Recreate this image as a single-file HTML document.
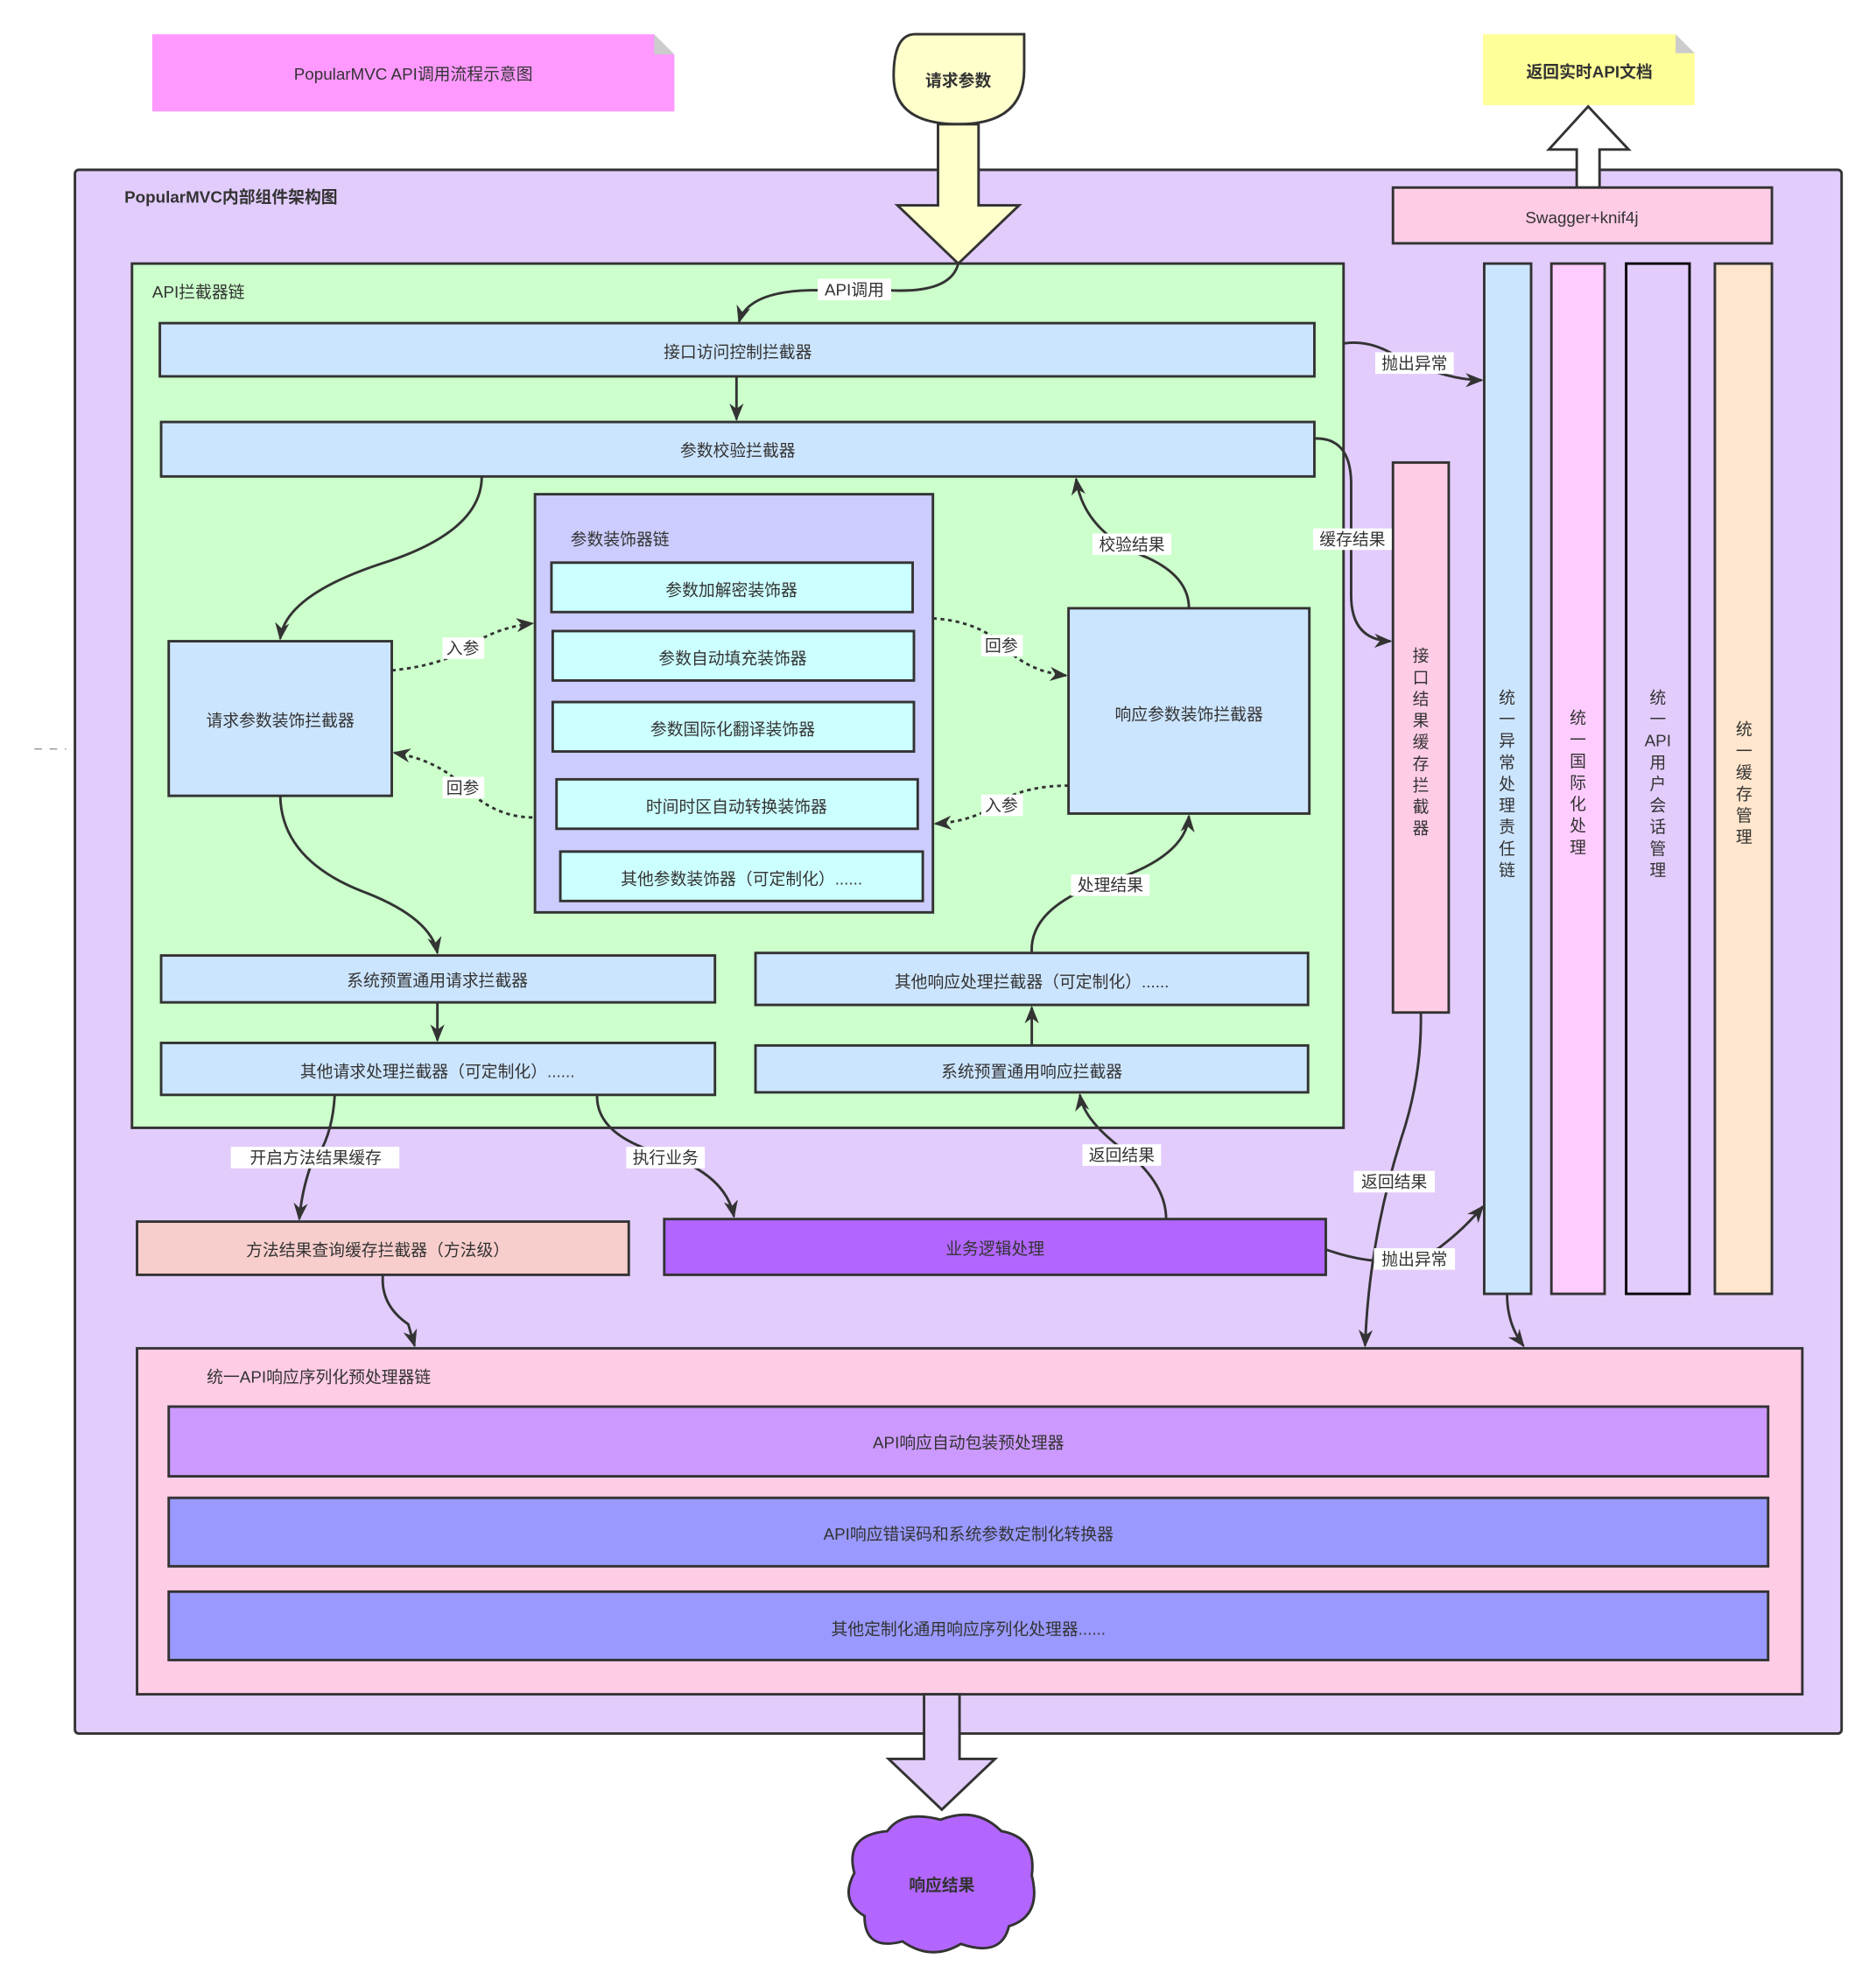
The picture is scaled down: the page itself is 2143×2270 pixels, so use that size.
<!DOCTYPE html>
<html><head><meta charset="utf-8"><style>
html,body{margin:0;padding:0;background:#fff}
svg{display:block}
text{font-family:"Liberation Sans","Noto Sans CJK SC",sans-serif;fill:#333;font-size:13px}
</style></head><body>
<svg width="2143" height="2270" viewBox="0 0 1480 1568" xmlns="http://www.w3.org/2000/svg">
<defs>
<marker id="a" viewBox="0 0 10 10" refX="9" refY="5" markerWidth="7" markerHeight="7" orient="auto-start-reverse"><path d="M0,1 L10,5 L0,9 L3,5z" fill="#333"/></marker>
</defs>
<line x1="27" y1="591" x2="52" y2="591" stroke="#999" stroke-dasharray="6,6"/>
<path d="M120,27 H516 L532,43 V88 H120Z" fill="#ff99ff"/>
<path d="M516,27 L532,43 H516Z" fill="#ccc"/>
<text x="326" y="63" text-anchor="middle">PopularMVC API调用流程示意图</text>
<path d="M1170,27 H1322 L1337,42 V83 H1170Z" fill="#ffff99"/>
<path d="M1322,27 L1337,42 H1322Z" fill="#ccc"/>
<text x="1254" y="61" text-anchor="middle" font-weight="bold">返回实时API文档</text>
<rect x="59" y="134" width="1394" height="1234" rx="3" fill="#e2ccfc" stroke="#333" stroke-width="2"/>
<text x="98" y="160" font-weight="bold">PopularMVC内部组件架构图</text>
<path d="M722,27 H808 V55 Q808,98 756,98 Q705,98 705,60 Q705,27 722,27Z" fill="#ffffcc" stroke="#333" stroke-width="2"/>
<text x="756" y="68" text-anchor="middle" font-weight="bold">请求参数</text>
<path d="M740,98 H772 V162 H804 L756,208 L708,162 H740Z" fill="#ffffcc" stroke="#333" stroke-width="2"/>
<path d="M1244,148 V118 H1222 L1253,84 L1285,118 H1262 V148Z" fill="#fff" stroke="#333" stroke-width="2"/>
<rect x="1099" y="148" width="299" height="44" fill="#ffcce6" stroke="#333" stroke-width="2"/>
<text x="1248" y="176" text-anchor="middle">Swagger+knif4j</text>
<rect x="104" y="208" width="956" height="682" fill="#ccffcc" stroke="#333" stroke-width="2"/>
<text x="120" y="235">API拦截器链</text>
<rect x="1171" y="208" width="37" height="813" fill="#cce5ff" stroke="#333" stroke-width="2"/>
<rect x="1224" y="208" width="42" height="813" fill="#ffccff" stroke="#333" stroke-width="2"/>
<rect x="1283" y="208" width="50" height="813" fill="#e2ccfc" stroke="#000" stroke-width="2"/>
<rect x="1353" y="208" width="45" height="813" fill="#ffe6cc" stroke="#333" stroke-width="2"/>
<rect x="1099" y="365" width="44" height="434" fill="#ffcce6" stroke="#333" stroke-width="2"/>
<g text-anchor="middle">
<text x="1121"><tspan x="1121" y="522">接</tspan><tspan x="1121" y="539">口</tspan><tspan x="1121" y="556">结</tspan><tspan x="1121" y="573">果</tspan><tspan x="1121" y="590">缓</tspan><tspan x="1121" y="607">存</tspan><tspan x="1121" y="624">拦</tspan><tspan x="1121" y="641">截</tspan><tspan x="1121" y="658">器</tspan></text>
<text><tspan x="1189" y="555">统</tspan><tspan x="1189" y="572">一</tspan><tspan x="1189" y="589">异</tspan><tspan x="1189" y="606">常</tspan><tspan x="1189" y="623">处</tspan><tspan x="1189" y="640">理</tspan><tspan x="1189" y="657">责</tspan><tspan x="1189" y="674">任</tspan><tspan x="1189" y="691">链</tspan></text>
<text><tspan x="1245" y="571">统</tspan><tspan x="1245" y="588">一</tspan><tspan x="1245" y="605">国</tspan><tspan x="1245" y="622">际</tspan><tspan x="1245" y="639">化</tspan><tspan x="1245" y="656">处</tspan><tspan x="1245" y="673">理</tspan></text>
<text><tspan x="1308" y="555">统</tspan><tspan x="1308" y="572">一</tspan><tspan x="1308" y="589">API</tspan><tspan x="1308" y="606">用</tspan><tspan x="1308" y="623">户</tspan><tspan x="1308" y="640">会</tspan><tspan x="1308" y="657">话</tspan><tspan x="1308" y="674">管</tspan><tspan x="1308" y="691">理</tspan></text>
<text><tspan x="1376" y="580">统</tspan><tspan x="1376" y="597">一</tspan><tspan x="1376" y="614">缓</tspan><tspan x="1376" y="631">存</tspan><tspan x="1376" y="648">管</tspan><tspan x="1376" y="665">理</tspan></text>
</g>
<g stroke="#333" stroke-width="2" fill="#cce5ff">
<rect x="126" y="255" width="911" height="42"/>
<rect x="127" y="333" width="910" height="43"/>
<rect x="133" y="506" width="176" height="122"/>
<rect x="843" y="480" width="190" height="162"/>
<rect x="127" y="754" width="437" height="37"/>
<rect x="127" y="823" width="437" height="41"/>
<rect x="596" y="752" width="436" height="41"/>
<rect x="596" y="825" width="436" height="37"/>
<rect x="422" y="390" width="314" height="330" fill="#ccccff"/>
<g fill="#ccffff">
<rect x="435" y="444" width="285" height="39"/>
<rect x="436" y="498" width="285" height="39"/>
<rect x="436" y="554" width="285" height="39"/>
<rect x="439" y="615" width="285" height="39"/>
<rect x="442" y="672" width="286" height="39"/>
</g>
<rect x="108" y="964" width="388" height="42" fill="#f8cecc"/>
<rect x="524" y="962" width="522" height="44" fill="#b266ff"/>
<rect x="108" y="1064" width="1314" height="273" fill="#ffcce6"/>
<rect x="133" y="1110" width="1262" height="55" fill="#cc99ff"/>
<rect x="133" y="1182" width="1262" height="54" fill="#9999ff"/>
<rect x="133" y="1256" width="1262" height="54" fill="#9999ff"/>
</g>
<g text-anchor="middle">
<text x="582" y="282">接口访问控制拦截器</text>
<text x="582" y="360">参数校验拦截器</text>
<text x="221" y="573">请求参数装饰拦截器</text>
<text x="938" y="568">响应参数装饰拦截器</text>
<text x="577" y="470">参数加解密装饰器</text>
<text x="578" y="524">参数自动填充装饰器</text>
<text x="578" y="580">参数国际化翻译装饰器</text>
<text x="581" y="641">时间时区自动转换装饰器</text>
<text x="585" y="698">其他参数装饰器（可定制化）......</text>
<text x="345" y="778">系统预置通用请求拦截器</text>
<text x="345" y="850">其他请求处理拦截器（可定制化）......</text>
<text x="814" y="779">其他响应处理拦截器（可定制化）......</text>
<text x="814" y="850">系统预置通用响应拦截器</text>
<text x="298" y="991">方法结果查询缓存拦截器（方法级）</text>
<text x="785" y="990">业务逻辑处理</text>
<text x="764" y="1143">API响应自动包装预处理器</text>
<text x="764" y="1215">API响应错误码和系统参数定制化转换器</text>
<text x="764" y="1290">其他定制化通用响应序列化处理器......</text>
</g>
<text x="450" y="430">参数装饰器链</text>
<text x="163" y="1091">统一API响应序列化预处理器链</text>
<path d="M729,1337 H757 V1388 H785 L743,1428 L701,1388 H729Z" fill="#e2ccfc" stroke="#333" stroke-width="2"/>
<path d="M700,1445 Q712,1428 742,1436 Q770,1425 790,1445 Q818,1450 814,1480 Q822,1512 796,1520 Q790,1545 758,1534 Q735,1548 712,1532 Q682,1540 682,1512 Q662,1500 674,1478 Q666,1448 700,1445Z" fill="#b266ff" stroke="#333" stroke-width="2"/>
<text x="743" y="1492" text-anchor="middle" font-weight="bold">响应结果</text>
<g fill="none" stroke="#333" stroke-width="2" marker-end="url(#a)">
<path d="M756,208 Q750,232 700,229 L640,229 Q590,230 583,254"/>
<path d="M581,297 V331"/>
<path d="M380,376 Q380,420 300,445 Q225,470 221,504"/>
<path d="M221,628 Q222,680 290,705 Q340,725 345,752"/>
<path d="M345,791 V821"/>
<path d="M264,864 Q262,900 245,920 Q238,940 236,962"/>
<path d="M471,864 Q470,895 520,910 Q572,925 579,960"/>
<path d="M920,962 Q920,935 890,910 Q855,885 852,864"/>
<path d="M814,825 V795"/>
<path d="M814,752 Q812,720 860,700 Q935,680 938,644"/>
<path d="M938,480 Q938,455 905,440 Q855,420 849,378"/>
<path d="M1037,346 Q1065,345 1066,380 V470 Q1066,505 1097,506"/>
<path d="M1060,271 Q1080,268 1100,280 Q1140,300 1169,300"/>
<path d="M1121,799 Q1122,850 1105,900 Q1080,980 1077,1062"/>
<path d="M1046,986 Q1100,1005 1135,985 Q1155,970 1170,952"/>
<path d="M1189,1021 Q1189,1045 1202,1062"/>
<path d="M302,1006 Q300,1030 322,1045 L327,1062"/>
</g>
<g fill="none" stroke="#333" stroke-width="2" stroke-dasharray="3,3" marker-end="url(#a)">
<path d="M309,529 Q350,525 370,510 Q392,495 420,492"/>
<path d="M420,645 Q390,645 365,620 Q345,600 311,594"/>
<path d="M736,488 Q770,490 790,508 Q810,530 841,533"/>
<path d="M843,620 Q810,620 790,632 Q770,648 738,650"/>
</g>
<g text-anchor="middle">
<rect x="645" y="220" width="58" height="17" fill="#fff"/><text x="674" y="233">API调用</text>
<rect x="1085" y="278" width="62" height="17" fill="#fff"/><text x="1116" y="291">抛出异常</text>
<rect x="1036" y="417" width="62" height="17" fill="#fff"/><text x="1067" y="430">缓存结果</text>
<rect x="862" y="421" width="62" height="17" fill="#fff"/><text x="893" y="434">校验结果</text>
<rect x="349" y="503" width="33" height="17" fill="#fff"/><text x="365" y="516">入参</text>
<rect x="349" y="613" width="33" height="17" fill="#fff"/><text x="365" y="626">回参</text>
<rect x="774" y="501" width="33" height="17" fill="#fff"/><text x="790" y="514">回参</text>
<rect x="774" y="627" width="33" height="17" fill="#fff"/><text x="790" y="640">入参</text>
<rect x="845" y="690" width="62" height="17" fill="#fff"/><text x="876" y="703">处理结果</text>
<rect x="182" y="905" width="133" height="17" fill="#fff"/><text x="249" y="918">开启方法结果缓存</text>
<rect x="494" y="905" width="62" height="17" fill="#fff"/><text x="525" y="918">执行业务</text>
<rect x="854" y="903" width="62" height="17" fill="#fff"/><text x="885" y="916">返回结果</text>
<rect x="1068" y="924" width="64" height="17" fill="#fff"/><text x="1100" y="937">返回结果</text>
<rect x="1084" y="985" width="64" height="17" fill="#fff"/><text x="1116" y="998">抛出异常</text>
</g>
</svg>
</body></html>
